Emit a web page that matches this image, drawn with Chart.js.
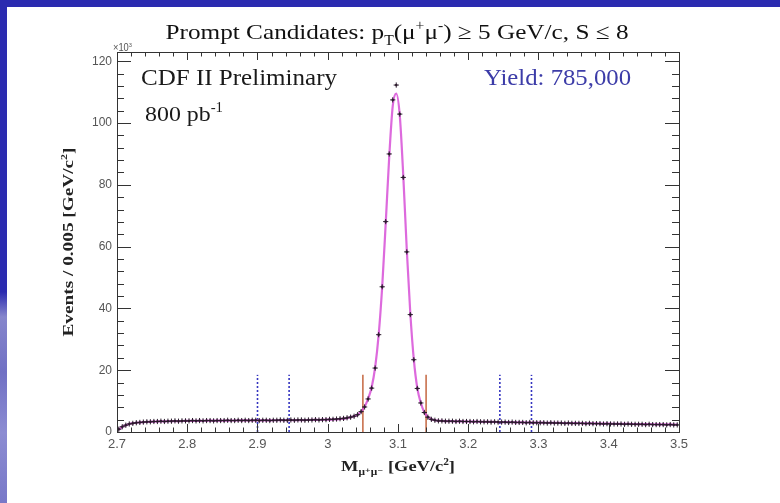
<!DOCTYPE html>
<html>
<head>
<meta charset="utf-8">
<script src="https://cdn.jsdelivr.net/npm/chart.js@4.4.1/dist/chart.umd.min.js"></script>
<style>
  html, body { margin: 0; padding: 0; background: #fff; }
  #wrap { position: relative; width: 780px; height: 503px; overflow: hidden; }
  #topBand { position: absolute; left: 0; top: 0; width: 780px; height: 7px; background: #2b2bb0; }
  #leftBand { position: absolute; left: 0; top: 0; width: 7px; height: 503px;
    background: linear-gradient(to bottom, #2b2bb0 0%, #2b2bb0 58%, #8686cc 63%, #7070c4 74%, #8c8cd2 86%, #7878c8 100%); }
  #chartBox { position: absolute; left: 0; top: 0; width: 780px; height: 503px; }
</style>
</head>
<body>
<div id="wrap">
  <div id="topBand"></div>
  <div id="leftBand"></div>
  <div id="chartBox"><canvas id="myChart"></canvas></div>
</div>
<script>
'use strict';

// histogram binning: 2.7 - 3.5 GeV/c^2, 0.005 per bin
const binLow = 2.7;
const binWidth = 0.005;

// events per bin (x10^3)
const counts = [
  0.9, 1.7, 2.2, 2.6, 2.8, 3.0, 3.1, 3.2, 3.3, 3.3,
  3.4, 3.4, 3.5, 3.4, 3.5, 3.5, 3.6, 3.5, 3.6, 3.6,
  3.6, 3.7, 3.6, 3.7, 3.6, 3.7, 3.7, 3.6, 3.7, 3.7,
  3.7, 3.8, 3.7, 3.7, 3.8, 3.7, 3.8, 3.7, 3.8, 3.8,
  3.7, 3.8, 3.8, 3.7, 3.8, 3.8, 3.9, 3.8, 3.8, 3.9,
  3.8, 3.9, 3.9, 3.8, 3.9, 3.9, 4.0, 3.9, 4.0, 4.0,
  4.1, 4.1, 4.2, 4.3, 4.4, 4.6, 4.8, 5.1, 5.6, 6.6,
  8.1, 10.7, 14.2, 20.7, 31.5, 47.0, 68.1, 90.0, 107.5, 112.3,
  102.9, 82.4, 58.3, 38.0, 23.4, 14.1, 9.4, 6.3, 4.8, 4.1,
  3.8, 3.6, 3.6, 3.5, 3.5, 3.5, 3.4, 3.5, 3.4, 3.4,
  3.4, 3.3, 3.4, 3.3, 3.3, 3.3, 3.2, 3.3, 3.2, 3.2,
  3.2, 3.1, 3.2, 3.1, 3.1, 3.1, 3.0, 3.1, 3.0, 3.0,
  3.0, 3.0, 2.9, 3.0, 2.9, 2.9, 2.9, 2.8, 2.9, 2.8,
  2.8, 2.8, 2.8, 2.7, 2.8, 2.7, 2.7, 2.7, 2.6, 2.7,
  2.6, 2.6, 2.6, 2.6, 2.5, 2.6, 2.5, 2.5, 2.5, 2.5,
  2.4, 2.5, 2.4, 2.4, 2.4, 2.4, 2.3, 2.4, 2.3, 2.3
];

// fitted curve at the bin centres (x10^3)
const fitCounts = [
  0.8, 1.7, 2.2, 2.6, 2.85, 3.0, 3.1, 3.2, 3.25, 3.3,
  3.35, 3.4, 3.42, 3.45, 3.48, 3.5, 3.52, 3.54, 3.56, 3.58,
  3.6, 3.61, 3.62, 3.63, 3.64, 3.65, 3.66, 3.67, 3.68, 3.69,
  3.7, 3.71, 3.72, 3.72, 3.73, 3.74, 3.74, 3.75, 3.76, 3.76,
  3.77, 3.78, 3.78, 3.79, 3.8, 3.8, 3.81, 3.82, 3.83, 3.84,
  3.85, 3.86, 3.87, 3.88, 3.89, 3.9, 3.92, 3.94, 3.96, 3.98,
  4.0, 4.05, 4.1, 4.2, 4.3, 4.5, 4.75, 5.1, 5.6, 6.6,
  8.2, 10.8, 14.5, 21.0, 31.5, 47.0, 67.5, 89.0, 105.5, 109.5,
  102.5, 83.0, 59.0, 38.5, 23.5, 14.2, 9.4, 6.4, 4.9, 4.15,
  3.8, 3.65, 3.58, 3.54, 3.51, 3.48, 3.46, 3.44, 3.42, 3.4,
  3.38, 3.36, 3.34, 3.32, 3.3, 3.28, 3.26, 3.24, 3.22, 3.21,
  3.2, 3.18, 3.16, 3.14, 3.12, 3.1, 3.08, 3.07, 3.05, 3.04,
  3.02, 3.0, 2.99, 2.97, 2.95, 2.94, 2.92, 2.9, 2.89, 2.87,
  2.85, 2.84, 2.82, 2.8, 2.79, 2.77, 2.75, 2.74, 2.72, 2.7,
  2.68, 2.67, 2.65, 2.64, 2.62, 2.61, 2.59, 2.58, 2.56, 2.55,
  2.53, 2.52, 2.51, 2.5, 2.48, 2.47, 2.45, 2.44, 2.42, 2.4
];

// sideband (blue dashed) and signal window (red) edges
const sidebandEdges = [2.90, 2.945, 3.245, 3.29];
const signalEdges = [3.05, 3.14];
const edgeHeight = 18.5;

const xTicks = [2.7, 2.8, 2.9, 3.0, 3.1, 3.2, 3.3, 3.4, 3.5];
const xTickLabels = ['2.7', '2.8', '2.9', '3', '3.1', '3.2', '3.3', '3.4', '3.5'];
const yTicks = [0, 20, 40, 60, 80, 100, 120];
const yTickLabels = ['0', '20', '40', '60', '80', '100', '120'];
const yMax = 123;

const points = counts.map((v, i) => ({ x: binLow + binWidth * (i + 0.5), y: v }));
const fitPoints = fitCounts.map((v, i) => ({ x: binLow + binWidth * (i + 0.5), y: v }));

function edgeSet(xv, color, dash) {
  return {
    data: [{ x: xv, y: 0 }, { x: xv, y: edgeHeight }],
    showLine: true,
    borderColor: color,
    borderWidth: 1.6,
    borderDash: dash,
    pointRadius: 0,
    order: 3
  };
}

const datasets = [];
sidebandEdges.forEach(v => datasets.push(edgeSet(v, '#3535c0', [2, 2])));
signalEdges.forEach(v => datasets.push(edgeSet(v, '#c8704c', [])));
datasets.push({
  data: fitPoints,
  showLine: true,
  borderColor: 'rgba(215,80,215,0.85)',
  borderWidth: 2.2,
  cubicInterpolationMode: 'monotone',
  pointRadius: 0,
  order: 2
});
datasets.push({
  data: points,
  pointStyle: 'cross',
  pointRadius: 2.6,
  borderColor: '#2a1a2c',
  borderWidth: 1,
  order: 1
});
datasets.push({
  data: points,
  pointStyle: 'rect',
  pointRadius: 1.5,
  backgroundColor: '#2a1a2c',
  borderColor: '#2a1a2c',
  borderWidth: 0,
  order: 0
});

// text with sub/superscripts, squeezed to a target width
function richWidth(ctx, segs, size, family, weight) {
  let w = 0;
  segs.forEach(s => {
    ctx.font = `${weight} ${(s.sub || s.sup) ? size * 0.62 : size}px ${family}`;
    w += ctx.measureText(s.t).width;
  });
  return w;
}

function drawRich(ctx, segs, x, y, o) {
  const w = richWidth(ctx, segs, o.size, o.family, o.weight);
  const k = o.width ? o.width / w : 1;
  ctx.save();
  ctx.translate(x, y);
  if (o.rotate) ctx.rotate(o.rotate);
  ctx.scale(k, 1);
  ctx.fillStyle = o.color;
  ctx.textAlign = 'left';
  ctx.textBaseline = 'alphabetic';
  let cx = o.align === 'center' ? -w / 2 : 0;
  segs.forEach(s => {
    const small = s.sub || s.sup;
    ctx.font = `${o.weight} ${small ? o.size * 0.62 : o.size}px ${o.family}`;
    const dy = s.sub ? o.size * 0.25 : (s.sup ? -o.size * 0.42 : 0);
    ctx.fillText(s.t, cx, dy);
    cx += ctx.measureText(s.t).width;
  });
  ctx.restore();
}

const serif = '"Liberation Serif", "DejaVu Serif", serif';

const framePlugin = {
  id: 'frame',
  afterDatasetsDraw(chart) {
    const { ctx, chartArea: a, scales: { x, y } } = chart;
    ctx.save();
    ctx.strokeStyle = '#333';
    ctx.lineWidth = 1;
    ctx.strokeRect(Math.round(a.left) + 0.5, Math.round(a.top) + 0.5,
      Math.round(a.right - a.left), Math.round(a.bottom - a.top));
    ctx.beginPath();
    const xStep = (xTicks[1] - xTicks[0]) / 5;
    for (let k = 0; k <= (xTicks.length - 1) * 5; k++) {
      const px = Math.round(x.getPixelForValue(xTicks[0] + k * xStep)) + 0.5;
      const len = k % 5 === 0 ? 8 : 4.5;
      ctx.moveTo(px, a.bottom); ctx.lineTo(px, a.bottom - len);
      ctx.moveTo(px, a.top); ctx.lineTo(px, a.top + len);
    }
    const yStep = (yTicks[1] - yTicks[0]) / 5;
    for (let k = 0; yTicks[0] + k * yStep <= yMax; k++) {
      const py = Math.round(y.getPixelForValue(yTicks[0] + k * yStep)) + 0.5;
      const len = k % 5 === 0 ? 14 : 7;
      ctx.moveTo(a.left, py); ctx.lineTo(a.left + len, py);
      ctx.moveTo(a.right, py); ctx.lineTo(a.right - len, py);
    }
    ctx.stroke();
    ctx.restore();
  },
  afterDraw(chart) {
    const ctx = chart.ctx;
    drawRich(ctx, [
      { t: 'Prompt Candidates: p' }, { t: 'T', sub: true }, { t: '(μ' }, { t: '+', sup: true },
      { t: 'μ' }, { t: '-', sup: true }, { t: ') ≥ 5 GeV/c, S ≤ 8' }
    ], 397, 39, { size: 22, family: serif, weight: 'normal', color: '#111', align: 'center', width: 463 });

    drawRich(ctx, [{ t: '×10' }, { t: '3', sup: true }], 113, 51,
      { size: 10, family: '"Liberation Sans", Arial, sans-serif', weight: 'normal', color: '#555', width: 19 });

    drawRich(ctx, [{ t: 'CDF II Preliminary' }], 141, 85,
      { size: 24, family: serif, weight: 'normal', color: '#1a1a1a', width: 196 });
    drawRich(ctx, [{ t: '800 pb' }, { t: '-1', sup: true }], 145, 121,
      { size: 22, family: serif, weight: 'normal', color: '#1a1a1a', width: 78 });
    drawRich(ctx, [{ t: 'Yield: 785,000' }], 484, 85,
      { size: 24, family: serif, weight: 'normal', color: '#3c3ca8', width: 147 });

    drawRich(ctx, [{ t: 'M' }, { t: 'μ⁺μ⁻', sub: true }, { t: ' [GeV/c' }, { t: '2', sup: true }, { t: ']' }],
      398, 471, { size: 15, family: serif, weight: 'bold', color: '#222', align: 'center', width: 114 });
    drawRich(ctx, [{ t: 'Events / 0.005 [GeV/c' }, { t: '2', sup: true }, { t: ']' }],
      73, 242, { size: 14, family: serif, weight: 'bold', color: '#222', align: 'center', width: 189, rotate: -Math.PI / 2 });
  }
};

const config = {
  type: 'scatter',
  data: { datasets: datasets },
  options: {
    responsive: true,
    maintainAspectRatio: false,
    animation: false,
    layout: { padding: { left: 0, top: 52, right: 101, bottom: 0 } },
    plugins: { legend: { display: false }, tooltip: { enabled: false }, title: { display: false } },
    scales: {
      x: {
        type: 'linear',
        min: xTicks[0],
        max: xTicks[xTicks.length - 1],
        afterBuildTicks: s => { s.ticks = xTicks.map(v => ({ value: v })); },
        afterFit: s => { s.height = 71; },
        grid: { display: false, drawTicks: false },
        border: { display: false },
        ticks: {
          padding: 5,
          color: '#555',
          font: { family: '"Liberation Sans", Arial, sans-serif', size: 13 },
          maxRotation: 0,
          autoSkip: false,
          callback: (v, i) => xTickLabels[i]
        }
      },
      y: {
        type: 'linear',
        min: 0,
        max: yMax,
        afterBuildTicks: s => { s.ticks = yTicks.map(v => ({ value: v })); },
        afterFit: s => { s.width = 117; },
        grid: { display: false, drawTicks: false },
        border: { display: false },
        ticks: {
          padding: 5,
          color: '#555',
          font: { family: '"Liberation Sans", Arial, sans-serif', size: 12 },
          callback: (v, i) => yTickLabels[i]
        }
      }
    }
  },
  plugins: [framePlugin]
};

const myChart = new Chart(document.getElementById('myChart'), config);
</script>
</body>
</html>
